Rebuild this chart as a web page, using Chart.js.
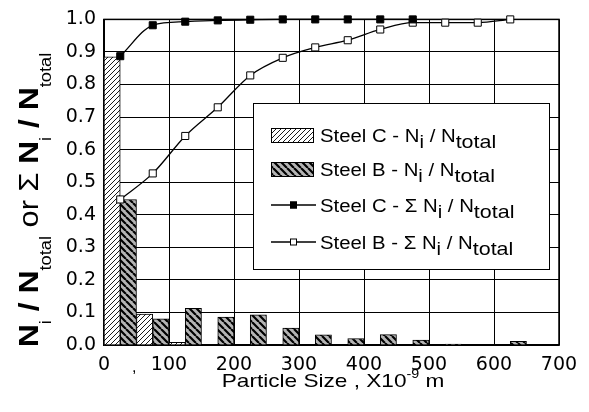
<!DOCTYPE html>
<html>
<head>
<meta charset="utf-8">
<script src="https://cdn.jsdelivr.net/npm/chart.js@4.4.1/dist/chart.umd.min.js"></script>
<style>
  html, body { margin: 0; padding: 0; background: #fff; }
</style>
</head>
<body>
<canvas id="chart" width="589" height="412"></canvas>
<script>
// histogram bins (centre of each 50 nm bin)
const binCenters = [25, 75, 125, 175, 225, 275, 325, 375, 425, 475, 525, 575, 625, 675];
const steelC = [0.885, 0.095, 0.008, 0, 0, 0, 0, 0, 0, 0, 0, 0, 0, 0];
const steelB = [0.447, 0.08, 0.113, 0.086, 0.093, 0.052, 0.031, 0.02, 0.032, 0.015, 0.003, 0, 0.011, 0];

// cumulative curves
const cumSizesC = [25, 75, 125, 175, 225, 275, 325, 375, 425, 475];
const cumC = [0.887, 0.982, 0.993, 0.997, 0.999, 1.0, 1.0, 1.0, 1.0, 1.0];
const cumSizesB = [25, 75, 125, 175, 225, 275, 325, 375, 425, 475, 525, 575, 625];
const cumB = [0.447, 0.527, 0.642, 0.73, 0.828, 0.882, 0.914, 0.936, 0.969, 0.99, 0.99, 0.99, 1.0];

// tick labels
const xTickValues = [0, 100, 200, 300, 400, 500, 600, 700];
const yTickValues = [0, 0.1, 0.2, 0.3, 0.4, 0.5, 0.6, 0.7, 0.8, 0.9, 1.0];

const FONT = '"Liberation Sans", Arial, sans-serif';

// hatch patterns
function hatch(size, bg, lw, back) {
    const c = document.createElement('canvas');
    c.width = size; c.height = size;
    const g = c.getContext('2d');
    g.fillStyle = bg;
    g.fillRect(0, 0, size, size);
    g.strokeStyle = '#000';
    g.lineWidth = lw;
    g.beginPath();
    for (let k = -1; k <= 1; k++) {
        if (back) {
            g.moveTo(k * size, 0); g.lineTo(k * size + size, size);
        } else {
            g.moveTo(k * size, size); g.lineTo(k * size + size, 0);
        }
    }
    g.stroke();
    return g.createPattern(c, 'repeat');
}
const ctx = document.getElementById('chart').getContext('2d');
const patC = hatch(5, '#fff', 0.9, false);
const patB = hatch(7, '#b4b4b4', 2.2, true);

function richText(c, x, y, parts, stretch, align, rotate) {
    c.save();
    c.translate(x, y);
    if (rotate) c.rotate(-Math.PI / 2);
    c.scale(stretch, 1);
    c.fillStyle = '#000';
    c.textAlign = 'left';
    c.textBaseline = 'alphabetic';
    let total = 0;
    parts.forEach(p => { c.font = p.f; total += c.measureText(p.t).width; });
    let cx = align === 'center' ? -total / 2 : 0;
    parts.forEach(p => {
        c.font = p.f;
        c.fillText(p.t, cx, p.dy || 0);
        cx += c.measureText(p.t).width;
    });
    c.restore();
}

const frame = {
    id: 'frame',
    beforeDatasetsDraw(chart) {
        const a = chart.chartArea, c = chart.ctx;
        c.save();
        c.strokeStyle = '#000';
        c.lineWidth = 1.5;
        c.strokeRect(a.left, a.top, a.right - a.left, a.bottom - a.top);
        c.restore();
    },
    afterDatasetsDraw(chart) {
        const c = chart.ctx;
        // legend box
        c.save();
        c.fillStyle = '#fff';
        c.fillRect(253, 103, 296, 166);
        c.strokeStyle = '#000';
        c.lineWidth = 1;
        c.strokeRect(253.5, 103.5, 296, 166);

        const L = '18px ' + FONT, LS = '19px ' + FONT;
        const rows = [135, 169, 205, 242];
        // bar swatches
        [patC, patB].forEach((p, i) => {
            c.fillStyle = p;
            c.fillRect(271, rows[i] - 7, 42, 14);
            c.strokeRect(271.5, rows[i] - 6.5, 42, 14);
        });
        // line swatches
        ['#000', '#fff'].forEach((fill, i) => {
            const y = rows[i + 2];
            c.beginPath();
            c.moveTo(271, y); c.lineTo(316, y);
            c.lineWidth = 1.3;
            c.stroke();
            c.fillStyle = fill;
            c.fillRect(290, y - 3.5, 7, 7);
            c.lineWidth = 1;
            c.strokeRect(290.5, y - 3, 6, 6);
        });
        c.restore();

        const labels = [
            [{t: 'Steel C - N', f: L}, {t: 'i', f: L, dy: 6}, {t: ' / N', f: L}, {t: 'total', f: LS, dy: 6}],
            [{t: 'Steel B - N', f: L}, {t: 'i', f: L, dy: 6}, {t: ' / N', f: L}, {t: 'total', f: LS, dy: 6}],
            [{t: 'Steel C - \u03A3 N', f: L}, {t: 'i', f: L, dy: 6}, {t: ' / N', f: L}, {t: 'total', f: LS, dy: 6}],
            [{t: 'Steel B - \u03A3 N', f: L}, {t: 'i', f: L, dy: 6}, {t: ' / N', f: L}, {t: 'total', f: LS, dy: 6}]
        ];
        labels.forEach((parts, i) => richText(c, 320, rows[i] + 6.5, parts, 1.13, 'left', false));
    },
    afterDraw(chart) {
        const c = chart.ctx;
        const B = 'bold 28px ' + FONT, R = '27px ' + FONT, S = '16px ' + FONT;
        richText(c, 38, 200, [
            {t: 'N', f: B}, {t: 'i', f: S, dy: 13}, {t: ' / ', f: B}, {t: 'N', f: B}, {t: 'total', f: S, dy: 13},
            {t: ' or ', f: R}, {t: '\u03A3 ', f: R},
            {t: 'N', f: B}, {t: 'i', f: S, dy: 13}, {t: ' / ', f: B}, {t: 'N', f: B}, {t: 'total', f: S, dy: 13}
        ], 1.14, 'center', true);

        const X = '19px ' + FONT;
        richText(c, 333, 387, [
            {t: 'Particle Size , X10', f: X}, {t: '-9', f: '12px ' + FONT, dy: -9}, {t: ' m', f: X}
        ], 1.19, 'center', false);

        // stray mark under the axis
        richText(c, 132, 372, [{t: ',', f: '16px ' + FONT}], 1, 'left', false);
    }
};

new Chart(ctx, {
    type: 'bar',
    data: {
        datasets: [
            {
                type: 'line',
                data: cumSizesC.map((x, i) => ({x: x, y: cumC[i]})),
                borderColor: '#000',
                borderWidth: 1.3,
                pointStyle: 'rect',
                pointRadius: 5,
                pointBackgroundColor: '#000',
                pointBorderColor: '#000',
                pointBorderWidth: 1,
                cubicInterpolationMode: 'monotone',
                clip: false,
                order: 0
            },
            {
                type: 'line',
                data: cumSizesB.map((x, i) => ({x: x, y: cumB[i]})),
                borderColor: '#000',
                borderWidth: 1.3,
                pointStyle: 'rect',
                pointRadius: 5,
                pointBackgroundColor: '#fff',
                pointBorderColor: '#000',
                pointBorderWidth: 1,
                cubicInterpolationMode: 'monotone',
                clip: false,
                order: 0
            },
            {
                data: binCenters.map((x, i) => ({x: x, y: steelC[i]})),
                backgroundColor: patC,
                borderColor: '#000',
                borderWidth: 1,
                barPercentage: 1,
                categoryPercentage: 1,
                order: 1
            },
            {
                data: binCenters.map((x, i) => ({x: x, y: steelB[i]})),
                backgroundColor: patB,
                borderColor: '#000',
                borderWidth: 1,
                barPercentage: 1,
                categoryPercentage: 1,
                order: 1
            }
        ]
    },
    options: {
        responsive: false,
        animation: false,
        layout: {
            padding: {top: 18, right: 30, left: 0, bottom: 0}
        },
        plugins: {
            legend: {display: false},
            tooltip: {enabled: false}
        },
        scales: {
            x: {
                type: 'linear',
                min: 0,
                max: 700,
                offset: false,
                grid: {offset: false, color: '#000', lineWidth: 1, drawTicks: false},
                border: {color: '#000', width: 1.5},
                ticks: {
                    padding: 9,
                    color: '#000',
                    maxRotation: 0,
                    font: {family: 'DejaVu Sans', size: 19}
                },
                afterBuildTicks: s => { s.ticks = xTickValues.map(v => ({value: v})); },
                afterFit: s => { s.height = 67; }
            },
            y: {
                min: 0,
                max: 1,
                grid: {color: '#000', lineWidth: 1, drawTicks: false},
                border: {color: '#000', width: 1.5},
                ticks: {
                    padding: 8,
                    color: '#000',
                    font: {family: 'DejaVu Sans', size: 19},
                    callback: v => v.toFixed(1)
                },
                afterBuildTicks: s => { s.ticks = yTickValues.map(v => ({value: v})); },
                afterFit: s => { s.width = 104; }
            }
        }
    },
    plugins: [frame]
});
</script>
</body>
</html>
